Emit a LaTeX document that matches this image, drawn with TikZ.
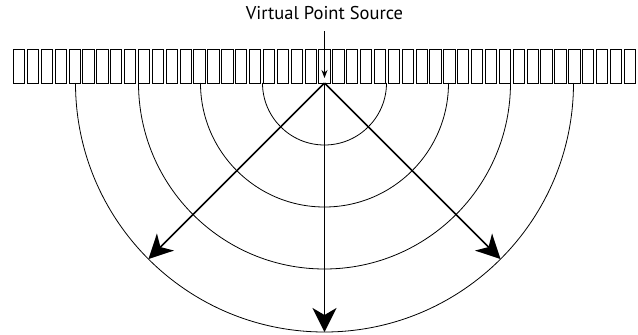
\documentclass[tikz,border=0pt]{standalone}
\usepackage{fontspec}
\setmainfont{PT Sans}
\usetikzlibrary{arrows.meta,positioning}

\begin{document}
\begin{tikzpicture}[x=1pt,y=1pt,
        element/.style={draw,line width=0.9pt,minimum width=11.3pt,minimum height=34pt,inner sep=0pt},
        wave/.style={line width=0.8pt},
        beam/.style={line width=1.7pt,-{Stealth[length=24pt,width=24pt,inset=7pt]}},
        feed/.style={line width=1pt,-{Stealth[length=8pt,width=6pt]}}]
        \useasboundingbox (-324.5,-252) rectangle (313.5,83);
        % transducer elements
        \foreach \i in {0,...,44}
          \node[element] (e\i) at ({(\i-22)*13.88},17) {};
        \coordinate (src) at (0,0);
        \node[font=\fontsize{18.5}{20}\selectfont,inner sep=0pt,anchor=base] (label) at (0,64) {Virtual Point Source};
        \coordinate (tip) at (0,5);
        \draw[feed] ([yshift=-12pt]label.base) -- (tip);
        % wavefronts
        \foreach \r in {62,124,186,249}
          \draw[wave] (-\r,0) arc (180:360:\r);
        \coordinate (b_left) at (-135:249);
        \coordinate (b_down) at (-90:249);
        \coordinate (b_right) at (-45:249);
        \draw[beam] (src) -- (b_left);
        \draw[beam] (src) -- (b_down);
        \draw[beam] (src) -- (b_right);
\end{tikzpicture}
\end{document}
